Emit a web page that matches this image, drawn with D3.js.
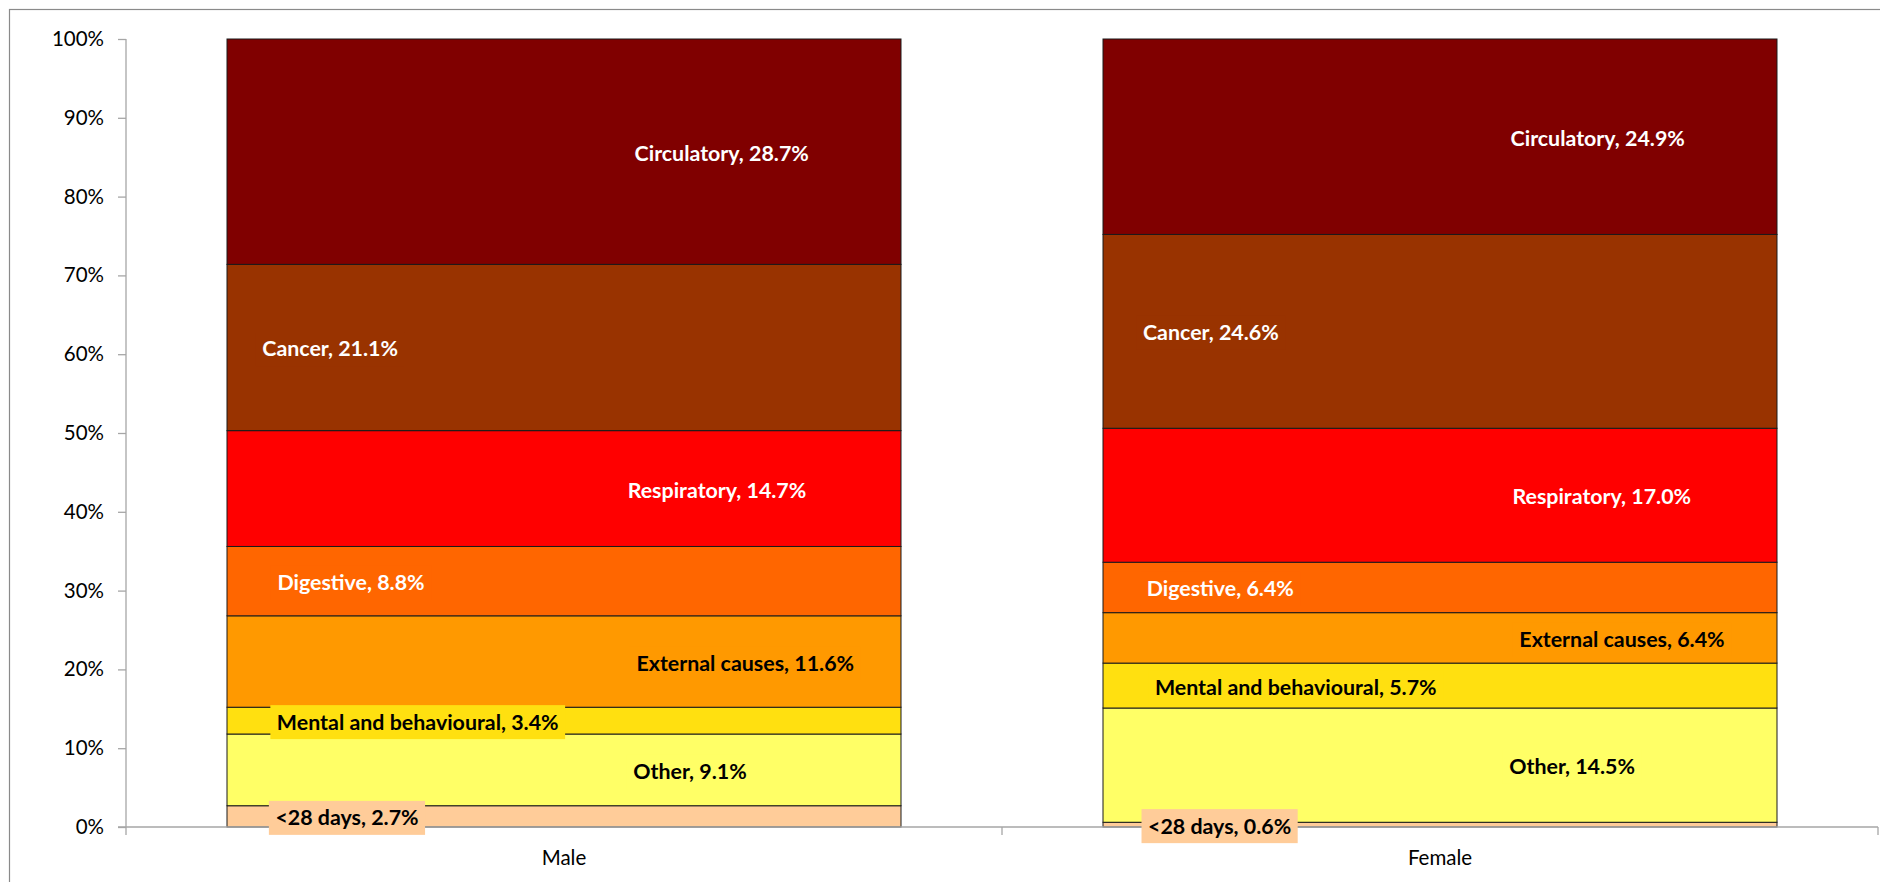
<!DOCTYPE html>
<html>
<head>
<meta charset="utf-8">
<script src="https://cdn.jsdelivr.net/npm/d3@7"></script>
<style>
  html, body { margin: 0; padding: 0; background: #fff; }
  svg { display: block; }
</style>
</head>
<body>
<svg id="chart" width="1880" height="882"></svg>
<script>
// ---- data ----
const categories = ["Male", "Female"];
const causes = ["<28 days", "Other", "Mental and behavioural", "External causes", "Digestive", "Respiratory", "Cancer", "Circulatory"];
const maleValues = [2.7, 9.1, 3.4, 11.6, 8.8, 14.7, 21.1, 28.7];
const femaleValues = [0.6, 14.5, 5.7, 6.4, 6.4, 17.0, 24.6, 24.9];
const yTickValues = [0, 10, 20, 30, 40, 50, 60, 70, 80, 90, 100];

// ---- styling (kept apart from data) ----
const causeColors = ["#FFCC99", "#FFFF66", "#FFE010", "#FF9900", "#FF6600", "#FF0000", "#993300", "#800000"];
const labelColors = ["#000", "#000", "#000", "#000", "#fff", "#fff", "#fff", "#fff"];
// label centre as fraction of bar width (manually placed labels in original)
const maleLabelX = [0.178, 0.687, 0.283, 0.769, 0.184, 0.727, 0.153, 0.734];
const femaleLabelX = [0.173, 0.696, 0.286, 0.770, 0.174, 0.740, 0.160, 0.734];

const svg = d3.select("#chart");
const W = 1880, H = 882;

// outer border
svg.append("rect").attr("x", 9.5).attr("y", 9.5).attr("width", W).attr("height", H)
  .attr("fill", "none").attr("stroke", "#8a8a8a").attr("stroke-width", 1.2);

const plotLeft = 126, plotRight = 1878, plotTop = 39, plotBottom = 827;

const x = d3.scaleBand().domain(categories).range([plotLeft, plotRight]).paddingInner(0.2306).paddingOuter(0.1153);
const y = d3.scaleLinear().domain([0, 100]).range([plotBottom, plotTop]).clamp(true);

const rows = categories.map((c, i) => {
  const vals = i === 0 ? maleValues : femaleValues;
  const o = { category: c };
  causes.forEach((k, j) => o[k] = vals[j]);
  return o;
});
const series = d3.stack().keys(causes)(rows);

const fontFamily = "Lato, 'Open Sans', sans-serif";

// y axis
const yAxisG = svg.append("g").attr("transform", `translate(${plotLeft},0)`)
  .call(d3.axisLeft(y).tickValues(yTickValues).tickSize(8).tickPadding(14).tickFormat(d => d + "%"));
yAxisG.select(".domain").attr("stroke", "#a6a6a6").attr("stroke-width", 1.3).attr("d", `M-0,${plotTop}V${plotBottom}`);
yAxisG.selectAll(".tick line").attr("stroke", "#a6a6a6").attr("stroke-width", 1.3);
yAxisG.selectAll(".tick text").attr("font-family", fontFamily).attr("font-size", 20.5).attr("fill", "#000");

// bars
const segG = svg.append("g");
series.forEach((s, j) => {
  segG.selectAll(null).data(s).enter().append("rect")
    .attr("x", d => x(d.data.category))
    .attr("width", x.bandwidth())
    .attr("y", d => y(d[1]))
    .attr("height", d => y(d[0]) - y(d[1]))
    .attr("fill", causeColors[j])
    .attr("stroke", "#1a1a1a")
    .attr("stroke-width", 1);
});

// x axis
const xTickPositions = [plotLeft, (plotLeft + plotRight) / 2, plotRight];
const xAxisG = svg.append("g");
xAxisG.append("line").attr("x1", plotLeft - 8).attr("x2", plotRight).attr("y1", plotBottom).attr("y2", plotBottom)
  .attr("stroke", "#a6a6a6").attr("stroke-width", 1.3);
xAxisG.selectAll(null).data(xTickPositions).enter().append("line")
  .attr("x1", d => d).attr("x2", d => d).attr("y1", plotBottom).attr("y2", plotBottom + 8)
  .attr("stroke", "#a6a6a6").attr("stroke-width", 1.3);
xAxisG.selectAll(null).data(categories).enter().append("text")
  .attr("x", d => x(d) + x.bandwidth() / 2).attr("y", 858).attr("dy", "0.35em")
  .attr("text-anchor", "middle").attr("font-family", fontFamily).attr("font-size", 20.5).attr("fill", "#000")
  .text(d => d);

// data labels
const labG = svg.append("g");
series.forEach((s, j) => {
  s.forEach((d, i) => {
    const vals = i === 0 ? maleValues : femaleValues;
    const fx = (i === 0 ? maleLabelX : femaleLabelX)[j];
    const cx = x(d.data.category) + fx * x.bandwidth();
    const cy = (y(d[0]) + y(d[1])) / 2 + 1.5;
    const g = labG.append("g");
    const t = g.append("text")
      .attr("x", cx).attr("y", cy).attr("dy", "0.35em")
      .attr("text-anchor", "middle")
      .attr("font-family", fontFamily).attr("font-weight", "bold").attr("font-size", 21.4)
      .attr("fill", labelColors[j])
      .text(`${causes[j]}, ${vals[j].toFixed(1)}%`);
    const bb = t.node().getBBox();
    g.insert("rect", "text")
      .attr("x", bb.x - 6.5).attr("y", cy - 17)
      .attr("width", bb.width + 13).attr("height", 34)
      .attr("fill", causeColors[j]);
  });
});
</script>
</body>
</html>
